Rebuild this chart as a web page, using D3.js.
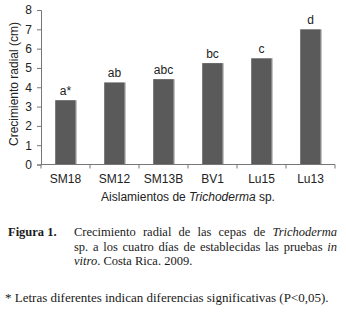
<!DOCTYPE html>
<html>
<head>
<meta charset="utf-8">
<script src="https://cdn.jsdelivr.net/npm/d3@7"></script>
<style>
  body { margin: 0; background: #fff; }
  #wrap { position: relative; width: 346px; height: 321px; overflow: hidden; }
  svg { position: absolute; left: 0; top: 0; }
  .cap { position: absolute; font-family: "Liberation Serif", "Times New Roman", serif; font-size: 12.5px; color: #1a1a1a; line-height: 14.5px; }
  .just { text-align: justify; text-align-last: justify; }
</style>
</head>
<body>
<div id="wrap">
  <svg id="chart" width="346" height="321"></svg>
  <div class="cap" style="left:8px; top:225px; font-weight:bold;">Figura 1.</div>
  <div class="cap" style="left:74px; top:225px; width:263px;">
    <div class="just">Crecimiento radial de las cepas de <i>Trichoderma</i></div>
    <div class="just">sp. a los cuatro días de establecidas las pruebas <i>in</i></div>
    <div><i>vitro</i>. Costa Rica. 2009.</div>
  </div>
  <div class="cap" style="left:5px; top:291px; font-size:13px;">* Letras diferentes indican diferencias significativas (P&lt;0,05).</div>
</div>
<script>
const categories = ["SM18", "SM12", "SM13B", "BV1", "Lu15", "Lu13"];
const values = [3.33, 4.25, 4.42, 5.25, 5.5, 7.0];
const letters = ["a*", "ab", "abc", "bc", "c", "d"];
const yTicks = [0, 1, 2, 3, 4, 5, 6, 7, 8];

const mLeft = 41, mRight = 335, mTop = 10, mBottom = 164.5;

const svg = d3.select("#chart");

const x = d3.scaleBand()
  .domain(categories)
  .range([mLeft, mRight])
  .padding(0);

const y = d3.scaleLinear()
  .domain([0, 8])
  .range([mBottom, mTop]);

const barW = x.bandwidth() * 0.42;

// bars
svg.selectAll("rect.bar")
  .data(values)
  .enter()
  .append("rect")
  .attr("class", "bar")
  .attr("x", (d, i) => x(categories[i]) + (x.bandwidth() - barW) / 2)
  .attr("y", (d) => y(d))
  .attr("width", barW)
  .attr("height", (d) => y(0) - y(d))
  .attr("fill", "#5a5a5a");

// light edge on right side of each bar
svg.selectAll("rect.edge")
  .data(values)
  .enter()
  .append("rect")
  .attr("class", "edge")
  .attr("x", (d, i) => x(categories[i]) + (x.bandwidth() + barW) / 2)
  .attr("y", (d) => y(d))
  .attr("width", 1)
  .attr("height", (d) => y(0) - y(d))
  .attr("fill", "#b4b4b4");

// letters above bars
svg.selectAll("text.lab")
  .data(values)
  .enter()
  .append("text")
  .attr("class", "lab")
  .attr("x", (d, i) => x(categories[i]) + x.bandwidth() / 2)
  .attr("y", (d) => y(d) - 5)
  .attr("text-anchor", "middle")
  .attr("font-family", "Liberation Sans, Arial, sans-serif")
  .attr("font-size", 12)
  .attr("fill", "#222")
  .text((d, i) => letters[i]);

// y axis
const yAxis = d3.axisLeft(y).tickValues(yTicks).tickSize(4).tickPadding(5);
const gy = svg.append("g")
  .attr("transform", "translate(" + mLeft + ",0)")
  .call(yAxis);
gy.select(".domain").attr("stroke", "#777");
gy.selectAll(".tick line").attr("stroke", "#777");
gy.selectAll(".tick text")
  .attr("font-family", "Liberation Sans, Arial, sans-serif")
  .attr("font-size", 12)
  .attr("fill", "#222");

// x axis: labels centred, tick marks on category boundaries
const xAxis = d3.axisBottom(x).tickSize(0).tickPadding(10);
const gx = svg.append("g")
  .attr("transform", "translate(0," + mBottom + ")")
  .call(xAxis);
gx.select(".domain").remove();
gx.selectAll(".tick text")
  .attr("font-family", "Liberation Sans, Arial, sans-serif")
  .attr("font-size", 12)
  .attr("fill", "#222");

svg.append("line")
  .attr("x1", mLeft).attr("x2", mRight)
  .attr("y1", mBottom).attr("y2", mBottom)
  .attr("stroke", "#777");

const bounds = categories.map((c) => x(c)).concat([mRight]);
svg.selectAll("line.xt")
  .data(bounds)
  .enter()
  .append("line")
  .attr("class", "xt")
  .attr("x1", (d) => d).attr("x2", (d) => d)
  .attr("y1", mBottom).attr("y2", mBottom + 4)
  .attr("stroke", "#777");

// axis titles
const xt = svg.append("text")
  .attr("x", (mLeft + mRight) / 2)
  .attr("y", 201)
  .attr("text-anchor", "middle")
  .attr("font-family", "Liberation Sans, Arial, sans-serif")
  .attr("font-size", 12)
  .attr("fill", "#222");
xt.append("tspan").text("Aislamientos de ");
xt.append("tspan").attr("font-style", "italic").text("Trichoderma");
xt.append("tspan").text(" sp.");

svg.append("text")
  .attr("transform", "translate(18," + 84 + ") rotate(-90)")
  .attr("text-anchor", "middle")
  .attr("font-family", "Liberation Sans, Arial, sans-serif")
  .attr("font-size", 12)
  .attr("fill", "#222")
  .text("Crecimiento radial (cm)");
</script>
</body>
</html>
